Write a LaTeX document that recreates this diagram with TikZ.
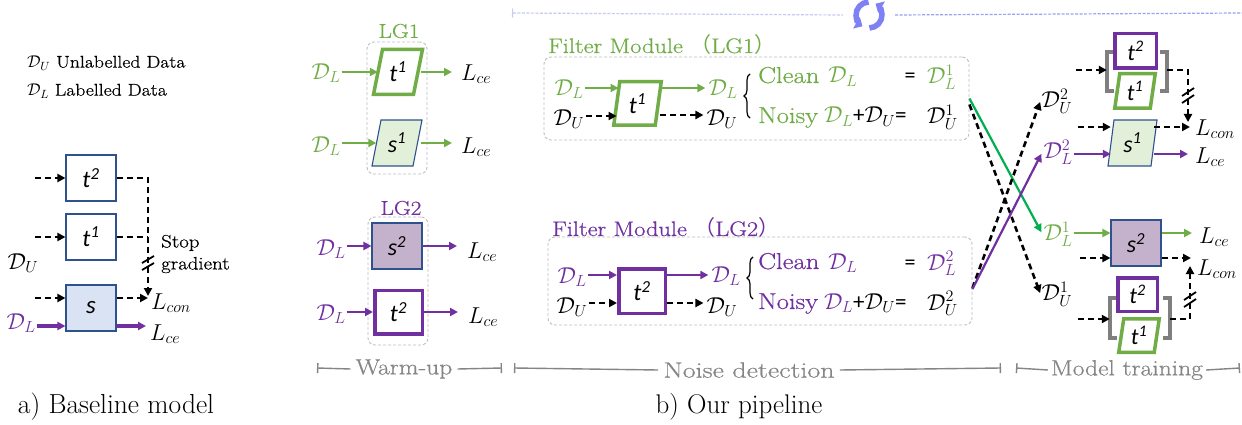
\RequirePackage{fix-cm}
\documentclass[tikz,border=0pt]{standalone}
\usepackage{fontspec}
\newfontfamily\carl{Carlito}
\newfontfamily\cjk{Noto Sans CJK SC}
\newfontfamily\lmw{Latin Modern Roman}[FakeStretch=1.16,FakeBold=0.6]
\newfontfamily\lmww{Latin Modern Roman}[FakeStretch=1.27,FakeBold=0.6]
\usetikzlibrary{arrows.meta,decorations.pathreplacing}
\definecolor{pgreen}{HTML}{70AD47}
\definecolor{xgreen}{HTML}{00B050}
\definecolor{ppurple}{HTML}{7030A0}
\definecolor{bblue}{HTML}{2F528F}
\definecolor{lblue}{HTML}{DAE3F3}
\definecolor{lgreen}{HTML}{E2F0D9}
\definecolor{lpurple}{HTML}{C4B2CC}
\definecolor{tgray}{HTML}{858585}
\definecolor{lgray}{HTML}{7F7F7F}
\definecolor{boxgray}{HTML}{BFBFBF}
\definecolor{lavA}{HTML}{C5CBF5}
\definecolor{lavB}{HTML}{98A4F2}
\definecolor{cycc}{HTML}{7E80F5}
\newcommand{\fsz}[1]{\fontsize{#1}{#1}\selectfont}
\newcommand{\tsym}[2]{{\carl\itshape #1\textsuperscript{#2}}}
\newcommand{\DD}[1]{\ensuremath{\mathcal{D}_{#1}}}
\newcommand{\para}[8]{%
  \draw[#7] ({#2-#4/2+#6},{#3-#5/2}) -- ({#2+#4/2},{#3-#5/2}) -- ({#2+#4/2-#6},{#3+#5/2}) -- ({#2-#4/2},{#3+#5/2}) -- cycle;
  \node[inner sep=0pt, minimum width=#4pt-#6pt, minimum height=#5pt] (#1) at (#2,#3) {#8};}
\tikzset{
  lbl/.style={inner sep=1pt, font=\fsz{23}},
  tip/.style={-{Triangle[length=8pt,width=8pt]}},
  grnarrow/.style={draw=pgreen, line width=2.6pt, tip},
  purarrow/.style={draw=ppurple, line width=2.6pt, tip},
  dasharrow/.style={draw=black, line width=2.6pt, dash pattern=on 6pt off 4pt, tip},
  dashline/.style={draw=black, line width=2.6pt, dash pattern=on 6pt off 4pt},
  thinbox/.style={draw=bblue, line width=1.1pt, inner sep=0pt},
  purbox/.style={draw=ppurple, line width=3.5pt, inner sep=0pt, fill=white},
  grpbox/.style={draw=boxgray, dash pattern=on 3pt off 2pt, rounded corners=7pt, line width=0.9pt, inner sep=0pt},
  tline/.style={draw=tgray, line width=1.4pt},
  ttext/.style={text=tgray, font=\lmw\fsz{22}, inner sep=5pt},
  brk/.style={draw=lgray, line width=3.5pt},
  cut/.style={draw=black, line width=1.8pt},
  rowtext/.style={anchor=base west, inner sep=0pt, font=\lmw\fsz{23}},
}
\begin{document}
\begin{tikzpicture}[x=1pt,y=-1pt]
\useasboundingbox (0,0) rectangle (1242,425);
\fill[white] (0,0) rectangle (1242,425);

% ---------------- a) baseline ----------------
\node[anchor=west, inner sep=0pt, font=\lmw\fsz{17}] (legU) at (27,63) {\DD{U} Unlabelled Data};
\node[anchor=west, inner sep=0pt, font=\lmw\fsz{17}] (legL) at (27,91) {\DD{L} Labelled Data};

\node[thinbox, fill=white, minimum width=50pt, minimum height=46pt] (at2) at (91,178) {\fsz{24}\tsym{t}{2}};
\node[thinbox, fill=white, minimum width=50pt, minimum height=46pt] (at1) at (91,237) {\fsz{24}\tsym{t}{1}};
\node[thinbox, fill=lblue, minimum width=50pt, minimum height=46pt] (as) at (91,308) {\fsz{25}\carl\itshape s};
\coordinate (ai2) at (35,178);
\coordinate (ai1) at (35,237);
\coordinate (ais) at (35,298);
\draw[dasharrow] (ai2) -- (at2.west);
\draw[dasharrow] (ai1) -- (at1.west);
\draw[dasharrow] (ais) -- (ais -| as.west);
\node[lbl] (aDU) at (23,263) {\DD{U}};
\node[lbl, text=ppurple] (aDL) at (21,323) {\DD{L}};
\draw[purarrow, line width=3.5pt] (aDL.east |- 0,326) -- (as.west |- 0,326);
\coordinate (aj1) at (148,237);
\coordinate (acon) at (148,296);
\node[lbl, anchor=west, inner sep=0pt] (aLcon) at (151,303) {$L_{con}$};
\node[lbl, anchor=west, inner sep=0pt] (aLce) at (150,334) {$L_{ce}$};
\draw[dasharrow] (at2.east) -- (at2.east -| acon) -- (acon);
\draw[dashline] (at1.east) -- (aj1);
\draw[dasharrow] (ais -| as.east) -- (ais -| acon);
\draw[purarrow, line width=3.5pt] (as.east |- 0,326) -- ([xshift=-4pt]aLce.west |- 0,326);
\draw[cut] (142,263) -- (154,256);
\draw[cut] (142,270) -- (154,263);
\node[anchor=west, inner sep=0pt, align=left, font=\lmw\fontsize{18}{22}\selectfont] (asg) at (161,254) {Stop\\gradient};
\node[font=\fsz{27.5}] (capa) at (116,407) {a) Baseline model};

% ---------------- b) warm-up ----------------
\node[grpbox, minimum width=60pt, minimum height=132pt] (wg1) at (397,108) {};
\node[text=pgreen, font=\lmw\fsz{20}, inner sep=0pt] (lg1) at (399,31) {LG1};
\para{wt1}{398}{72}{49}{45}{9}{draw=pgreen, line width=3.5pt, fill=white}{\fsz{24}\tsym{t}{1}}
\para{ws1}{397}{143}{50}{46}{9}{draw=bblue, line width=1.1pt, fill=lgreen}{\fsz{24}\tsym{s}{1}}
\node[lbl, text=pgreen] (wDL1) at (326,73) {\DD{L}};
\node[lbl, text=pgreen] (wDL2) at (326,146) {\DD{L}};
\node[lbl, anchor=west, inner sep=0pt] (wLce1) at (461,74) {$L_{ce}$};
\node[lbl, anchor=west, inner sep=0pt] (wLce2) at (461,147) {$L_{ce}$};
\draw[grnarrow] (wDL1.east |- wt1) -- (wt1.west);
\draw[grnarrow] (wDL2.east |- ws1) -- (ws1.west);
\draw[grnarrow] ([xshift=3pt]wt1.east) -- ([xshift=-9pt]wt1.east -| wLce1.west);
\draw[grnarrow] ([xshift=3pt]ws1.east) -- ([xshift=-9pt]ws1.east -| wLce2.west);

\node[grpbox, minimum width=60pt, minimum height=128pt] (wg2) at (398,281) {};
\node[text=ppurple, font=\lmw\fsz{20}, inner sep=0pt] (lg2) at (401,208) {LG2};
\node[thinbox, fill=lpurple, minimum width=50pt, minimum height=46pt] (ws2) at (397,246) {\fsz{24}\tsym{s}{2}};
\node[purbox, minimum width=47.5pt, minimum height=43.5pt] (wt2) at (398.5,312) {\fsz{24}\tsym{t}{2}};
\node[lbl, text=ppurple] (wDL3) at (331,249) {\DD{L}};
\node[lbl, text=ppurple] (wDL4) at (331,314) {\DD{L}};
\node[lbl, anchor=west, inner sep=0pt] (wLce3) at (467,252) {$L_{ce}$};
\node[lbl, anchor=west, inner sep=0pt] (wLce4) at (468,317) {$L_{ce}$};
\draw[purarrow] (wDL3.east |- ws2) -- (ws2.west);
\draw[purarrow] (wDL4.east |- wt2) -- (wt2.west);
\draw[purarrow] (ws2.east) -- ([xshift=-10pt]ws2.east -| wLce3.west);
\draw[purarrow] (wt2.east) -- ([xshift=-10pt]wt2.east -| wLce4.west);

% ---------------- timeline ----------------
\node[ttext] (twarm) at (404,369) {Warm-up};
\coordinate (tw0) at (317,368);
\coordinate (tw1) at (502,368);
\draw[tline, {Bar[width=10pt]}-] (tw0) -- (twarm.west);
\draw[tline, -{Bar[width=10pt]}] (twarm.east) -- (tw1);
\node[ttext, font=\lmww\fsz{22}] (tnoise) at (749,370) {Noise detection};
\coordinate (tn0) at (514,368);
\coordinate (tn1) at (1001,368);
\draw[tline, {Bar[width=10pt]}-] (tn0) -- (tnoise.west);
\draw[tline, -{Bar[width=10pt]}] (tnoise.east) -- (tn1);
\node[ttext, inner sep=3pt] (tmodel) at (1127,370) {Model training};
\coordinate (tm0) at (1016,368);
\coordinate (tm1) at (1240,368);
\draw[tline, {Bar[width=10pt]}-] (tm0) -- (tmodel.west);
\draw[tline, -{Bar[width=10pt]}] (tmodel.east) -- (tm1);
\node[font=\fsz{27}] (capb) at (739,407) {b) Our pipeline};

% ---------------- top loop line ----------------
\coordinate (top0) at (512,13);
\coordinate (top1) at (1242,13);
\node[minimum size=52pt, inner sep=0pt] (cyc) at (869,15) {};
\draw[draw=lavA, line width=1.2pt, dash pattern=on 3pt off 1.5pt, {Bar[width=9pt]}-] (top0) -- (cyc.west);
\draw[draw=lavB, line width=1.2pt, dash pattern=on 3pt off 1.5pt] (cyc.east) -- (top1);
\begin{scope}[shift={(cyc.center)}, yscale=-1]
  \draw[draw=cycc, line width=5.5pt, -{Triangle[length=7pt,width=13pt]}] (92:13) arc[start angle=92, end angle=240, radius=13];
  \draw[draw=cycc, line width=5.5pt, -{Triangle[length=7pt,width=13pt]}] (272:13) arc[start angle=272, end angle=420, radius=13];
\end{scope}

% ---------------- Filter module LG1 ----------------
\node[anchor=west, inner sep=0pt, text=pgreen, font=\lmw\fsz{21}] (fm1t) at (548,45) {Filter Module {\cjk （}LG1{\cjk ）}};
\node[grpbox, minimum width=425pt, minimum height=83pt] (fm1) at (756.5,98.5) {};
\node[lbl, text=pgreen] (f1DL) at (569,89) {\DD{L}};
\node[lbl] (f1DU) at (569,119) {\DD{U}};
\para{f1t}{637.5}{103.5}{47.5}{43.5}{6}{draw=pgreen, line width=3.5pt, fill=white}{\fsz{24}\tsym{t}{1}}
\node[lbl, text=pgreen] (f1DLo) at (723,89) {\DD{L}};
\node[lbl] (f1DUo) at (722,119) {\DD{U}};
\draw[grnarrow] (f1DL.east |- 0,88) -- ([xshift=2pt]f1t.west |- 0,88);
\draw[dasharrow] (f1DU.east |- 0,116) -- (f1t.west |- 0,116);
\draw[grnarrow] ([xshift=3pt]f1t.east |- 0,88) -- ([xshift=-2pt]f1DLo.west |- 0,88);
\draw[dasharrow] ([xshift=2pt]f1t.east |- 0,115) -- ([xshift=-2pt]f1DUo.west |- 0,115);
\draw[decorate, decoration={brace, amplitude=6pt}, line width=1.2pt] (750,118) -- (750,74);
\node[rowtext, text=pgreen] (f1c) at (758,83) {Clean\hspace{9pt}\DD{L}};
\node[anchor=base, inner sep=0pt, font=\carl\fsz{22}] (f1e) at (910,83) {=};
\node[rowtext, text=pgreen] (f1r) at (927,84) {$\mathcal{D}_L^1$};
\node[rowtext, text=pgreen] (f1n) at (758,123) {Noisy\hspace{6pt}\DD{L}\textcolor{black}{{\carl +}\DD{U}{\carl =}}};
\node[rowtext] (f1nr) at (927,124) {$\mathcal{D}_U^1$};

% ---------------- Filter module LG2 ----------------
\node[anchor=west, inner sep=0pt, text=ppurple, font=\lmw\fsz{21}] (fm2t) at (552,228) {Filter Module {\cjk （}LG2{\cjk ）}};
\node[grpbox, minimum width=424pt, minimum height=88pt] (fm2) at (760,281) {};
\node[lbl, text=ppurple] (f2DL) at (572,277) {\DD{L}};
\node[lbl] (f2DU) at (572,307) {\DD{U}};
\node[purbox, minimum width=46.5pt, minimum height=44.5pt] (f2t) at (642,291) {\fsz{24}\tsym{t}{2}};
\node[lbl, text=ppurple] (f2DLo) at (726,276) {\DD{L}};
\node[lbl] (f2DUo) at (722,307) {\DD{U}};
\draw[purarrow] (f2DL.east |- 0,275) -- (f2t.west |- 0,275);
\draw[dasharrow] (f2DU.east |- 0,303) -- (f2t.west |- 0,303);
\draw[purarrow] (f2t.east |- 0,275) -- ([xshift=-2pt]f2DLo.west |- 0,275);
\draw[dasharrow] (f2t.east |- 0,303) -- ([xshift=-2pt]f2DUo.west |- 0,303);
\draw[decorate, decoration={brace, amplitude=6pt}, line width=1.2pt] (753,299) -- (753,257);
\node[rowtext, text=ppurple] (f2c) at (758,269) {Clean\hspace{9pt}\DD{L}};
\node[anchor=base, inner sep=0pt, font=\carl\fsz{22}] (f2e) at (910,269) {=};
\node[rowtext, text=ppurple] (f2r) at (927,270) {$\mathcal{D}_L^2$};
\node[rowtext, text=ppurple] (f2n) at (758,309) {Noisy\hspace{6pt}\DD{L}\textcolor{black}{{\carl +}\DD{U}{\carl =}}};
\node[rowtext] (f2nr) at (927,310) {$\mathcal{D}_U^2$};

% ---------------- model training labels ----------------
\node[lbl] (mDU2) at (1057,101) {$\mathcal{D}_U^2$};
\node[lbl, text=ppurple] (mDL2) at (1058,152) {$\mathcal{D}_L^2$};
\node[lbl, text=pgreen] (mDL1) at (1058,234) {$\mathcal{D}_L^1$};
\node[lbl, text=black] (mDU1) at (1057,294) {$\mathcal{D}_U^1$};

% crossing connectors
\draw[dasharrow, shorten >=1pt] ([yshift=-6pt]fm1.east) -- (mDU1.west);
\draw[draw=xgreen, line width=2.2pt, tip, shorten >=2pt] (fm1.east) -- (mDL1.west);
\draw[dasharrow, shorten >=1pt] ([yshift=-7pt]fm2.east) -- (mDU2.west);
\draw[draw=ppurple, line width=2.2pt, tip, shorten >=2pt] ([yshift=-8pt]fm2.east) -- (mDL2.west);

% ---------------- model training top ----------------
\node[inner sep=0pt, minimum width=60pt, minimum height=39pt] (brA) at (1137,71.5) {};
\draw[brk] ([xshift=7pt]brA.north west) -- (brA.north west) -- (brA.south west) -- ([xshift=7pt]brA.south west);
\draw[brk] ([xshift=-7pt]brA.north east) -- (brA.north east) -- (brA.south east) -- ([xshift=-7pt]brA.south east);
\node[purbox, minimum width=41.5pt, minimum height=34.5pt] (mt2a) at (1135.5,51) {\fsz{23}\tsym{t}{2}};
\para{mt1a}{1135}{91}{40.5}{34.5}{5}{draw=pgreen, line width=3.5pt, fill=white}{\fsz{23}\tsym{t}{1}}
\para{ms1}{1132.5}{143}{49}{46}{6}{draw=bblue, line width=1.1pt, fill=lgreen}{\fsz{24}\tsym{s}{1}}
\coordinate (mi1) at (1076,70);
\coordinate (mi2) at (1078,127);
\coordinate (mj1) at (1188,122);
\node[lbl, anchor=west, inner sep=0pt] (mLcon1) at (1195,129) {$L_{con}$};
\node[lbl, anchor=west, inner sep=0pt] (mLce1) at (1195,157) {$L_{ce}$};
\draw[dasharrow] (mi1) -- (mi1 -| brA.west);
\draw[dasharrow] (brA.east |- mi1) -| (mj1);
\draw[cut] (1182,96) -- (1194,88);
\draw[cut] (1182,103) -- (1194,95);
\draw[dasharrow] (mi2) -- (mi2 -| ms1.west);
\draw[dasharrow] (ms1.east |- mi2) -- ([xshift=-5pt]mi2 -| mLcon1.west);
\draw[purarrow] (mDL2.east |- 0,154) -- (ms1.west |- 0,154);
\draw[purarrow] (ms1.east |- 0,154) -- ([xshift=-7pt]mLce1.west |- 0,154);

% ---------------- model training bottom ----------------
\node[thinbox, fill=lpurple, minimum width=50pt, minimum height=46pt] (ms2) at (1136,243) {\fsz{24}\tsym{s}{2}};
\node[inner sep=0pt, minimum width=60pt, minimum height=40pt] (brB) at (1140,318) {};
\draw[brk] ([xshift=7pt]brB.north west) -- (brB.north west) -- (brB.south west) -- ([xshift=7pt]brB.south west);
\draw[brk] ([xshift=-7pt]brB.north east) -- (brB.north east) -- (brB.south east) -- ([xshift=-7pt]brB.south east);
\node[purbox, minimum width=39.5pt, minimum height=33.5pt] (mt2b) at (1137.5,294.5) {\fsz{23}\tsym{t}{2}};
\para{mt1b}{1139}{335.5}{40.5}{33.5}{5}{draw=pgreen, line width=3.5pt, fill=white}{\fsz{23}\tsym{t}{1}}
\coordinate (mi3) at (1080,258);
\coordinate (mi4) at (1078,319);
\coordinate (mj2) at (1190,266);
\node[lbl, anchor=west, inner sep=0pt] (mLce2) at (1199,237) {$L_{ce}$};
\node[lbl, anchor=west, inner sep=0pt] (mLcon2) at (1197,269) {$L_{con}$};
\draw[grnarrow] (mDL1.east |- 0,233) -- (ms2.west |- 0,233);
\draw[grnarrow] (ms2.east |- 0,233) -- ([xshift=-7pt]mLce2.west |- 0,233);
\draw[dasharrow] (mi3) -- (mi3 -| ms2.west);
\draw[dasharrow] (ms2.east |- mi3) -- ([xshift=-6pt]mi3 -| mLcon2.west);
\draw[dasharrow] (mi4) -- (mi4 -| brB.west);
\draw[dasharrow] (brB.east |- mi4) -| (mj2);
\draw[cut] (1184,300) -- (1196,292);
\draw[cut] (1184,307) -- (1196,299);
\end{tikzpicture}
\end{document}
